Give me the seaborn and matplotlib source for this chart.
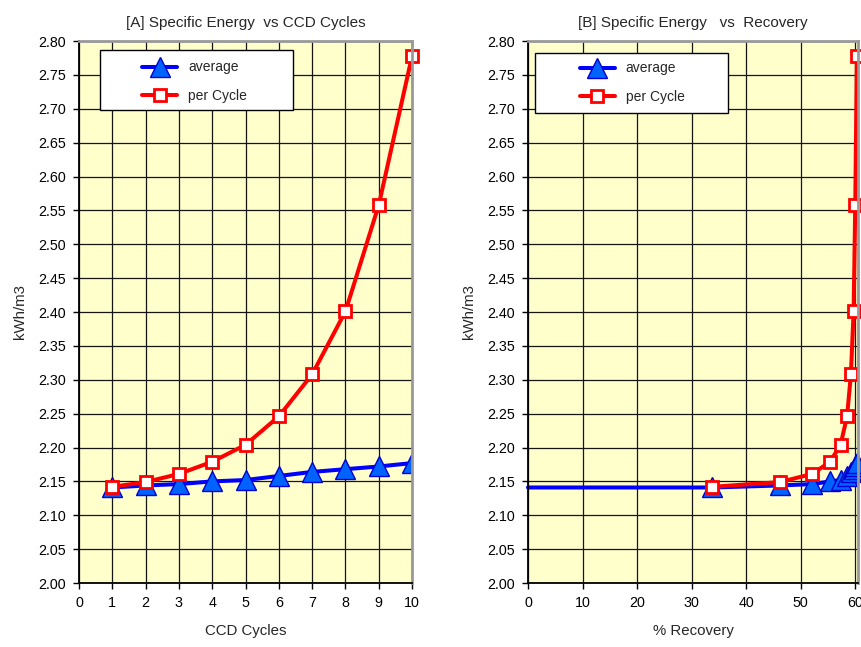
import matplotlib
matplotlib.use('Agg')
import matplotlib.pyplot as plt
import seaborn as sns
from matplotlib.patches import Rectangle

# Data
cycles = [1, 2, 3, 4, 5, 6, 7, 8, 9, 10]
per_cycle = [2.142, 2.149, 2.161, 2.179, 2.204, 2.246, 2.308, 2.401, 2.558, 2.778]
average = [2.141, 2.144, 2.146, 2.150, 2.152, 2.158, 2.164, 2.168, 2.172, 2.177]
recovery = [33.8, 46.2, 52.1, 55.4, 57.3, 58.5, 59.2, 59.7, 60.0, 60.3]
# average line in panel B starts from zero recovery
avg_recovery = [0.0] + recovery
avg_b = [2.141] + average

y_ticks = [2.00, 2.05, 2.10, 2.15, 2.20, 2.25, 2.30, 2.35, 2.40, 2.45,
           2.50, 2.55, 2.60, 2.65, 2.70, 2.75, 2.80]
xa_ticks = list(range(0, 11))
xb_ticks = [0, 10, 20, 30, 40, 50, 60]

sns.set_style('white')
plt.rcParams['font.family'] = ['Liberation Sans', 'DejaVu Sans']
plt.rcParams['font.size'] = 10

BLUE = '#0000FF'
TRI_FILL = '#0062FF'
TRI_EDGE = '#0000D0'
RED = '#FF0000'
BG = '#FFFFCC'

fig = plt.figure(figsize=(8.61, 6.47), dpi=100)
ax_a = fig.add_axes([0.0918, 0.0989, 0.3868, 0.8377])
ax_b = fig.add_axes([0.6132, 0.0989, 0.3833, 0.8377])


def style_axes(ax, xticks, xlim, title, xlabel):
    ax.set_facecolor(BG)
    ax.set_ylim(2.0, 2.8)
    ax.set_xlim(*xlim)
    ax.set_yticks(y_ticks)
    ax.set_yticklabels([f'{v:.2f}' for v in y_ticks])
    ax.set_xticks(xticks)
    ax.grid(True, color='#151515', linewidth=0.9)
    ax.set_axisbelow(True)
    ax.tick_params(direction='out', length=4.5, width=1.0, pad=5,
                   labelsize=10.3, colors='black', left=True, bottom=True)
    for s in ['left', 'bottom']:
        ax.spines[s].set_color('black')
        ax.spines[s].set_linewidth(1.3)
    for s in ['top', 'right']:
        ax.spines[s].set_color('#999999')
        ax.spines[s].set_linewidth(2.0)
    ax.set_title(title, fontsize=11, pad=10)
    ax.set_xlabel(xlabel, fontsize=10.8, labelpad=10)
    ax.set_ylabel('kWh/m3', fontsize=10.8, labelpad=8)


tri = dict(marker='^', markersize=14, markerfacecolor=TRI_FILL,
           markeredgecolor=TRI_EDGE, markeredgewidth=1.0)
sq = dict(marker='s', markersize=8.5, markerfacecolor='white',
          markeredgecolor=RED, markeredgewidth=2.0)

# [A] vs CCD cycles
sns.lineplot(x=cycles, y=average, ax=ax_a, color=BLUE, linewidth=2.9,
             label='average', sort=False, **tri)
sns.lineplot(x=cycles, y=per_cycle, ax=ax_a, color=RED, linewidth=2.9,
             label='per Cycle', sort=False, clip_on=False, **sq)
style_axes(ax_a, xa_ticks, (0, 10), '[A] Specific Energy  vs CCD Cycles', 'CCD Cycles')

# [B] vs recovery
sns.lineplot(x=avg_recovery, y=avg_b, ax=ax_b, color=BLUE, linewidth=2.9,
             label='average', sort=False, markevery=list(range(1, len(avg_b))),
             clip_on=False, **tri)
sns.lineplot(x=recovery, y=per_cycle, ax=ax_b, color=RED, linewidth=2.9,
             label='per Cycle', sort=False, clip_on=False, **sq)
style_axes(ax_b, xb_ticks, (0, 60.5), '[B] Specific Energy   vs  Recovery', '% Recovery')


def add_legend(ax, box, handle_x, center_y):
    rect = Rectangle((box[0], box[1]), box[2], box[3], transform=ax.transAxes,
                     facecolor='white', edgecolor='black', linewidth=1.0,
                     zorder=4, clip_on=False)
    ax.add_patch(rect)
    h, l = ax.get_legend_handles_labels()
    leg = ax.legend(h, l, loc='center left', bbox_to_anchor=(handle_x, center_y),
                    frameon=False, borderpad=0, borderaxespad=0,
                    handlelength=2.5, handletextpad=0.8, labelspacing=1.05,
                    fontsize=10)
    leg.set_zorder(5)


add_legend(ax_a, (0.063, 0.873, 0.58, 0.111), 0.19, 0.925)
add_legend(ax_b, (0.021, 0.867, 0.585, 0.111), 0.157, 0.923)

fig.savefig('out.png', dpi=100)
